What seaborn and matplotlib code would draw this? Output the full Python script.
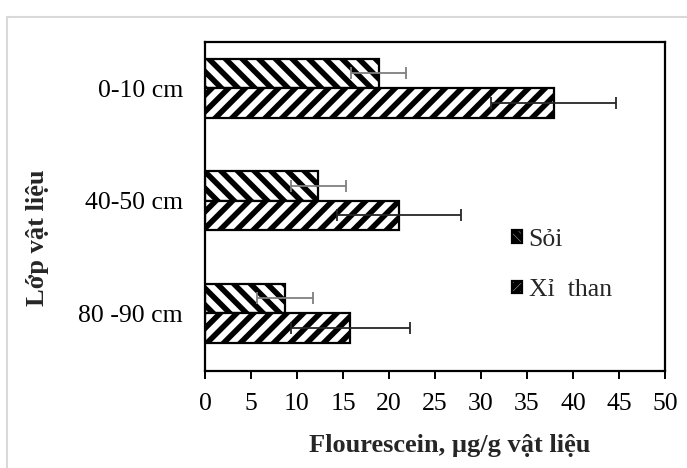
import matplotlib
matplotlib.use('Agg')
import pandas as pd
import matplotlib.pyplot as plt
import seaborn as sns
from matplotlib.patches import Rectangle

# values
layers = ['0-10 cm', '40-50 cm', '80 -90 cm']
materials = ['Sỏi', 'Xỉ  than']
soi_vals = [18.9, 12.3, 8.7]
soi_err = [3.0, 3.0, 3.0]
xi_vals = [37.9, 21.1, 15.8]
xi_err = [6.8, 6.7, 6.5]

df = pd.DataFrame({
    'layer': layers * 2,
    'material': [materials[0]] * 3 + [materials[1]] * 3,
    'value': soi_vals + xi_vals,
})

sns.set_style('ticks')
plt.rcParams['font.family'] = ['Liberation Serif', 'DejaVu Serif']
plt.rcParams['hatch.linewidth'] = 4.0
plt.rcParams['hatch.color'] = 'black'

fig = plt.figure(figsize=(6.87, 4.68), dpi=100)
ax = fig.add_axes([205 / 687, 1 - 371 / 468, 460 / 687, 329 / 468])

sns.barplot(data=df, x='value', y='layer', hue='material', orient='h',
            palette=['white', 'white'], edgecolor='black', linewidth=1.6,
            width=0.525, errorbar=None, ax=ax)

hatches = ['\\\\', '//']
err_colors = ['#7f7f7f', '#262626']
errs = [soi_err, xi_err]
vals = [soi_vals, xi_vals]
bar_groups = list(ax.containers)[:2]
for i, cont in enumerate(bar_groups):
    ys = []
    for bar in cont.patches:
        bar.set_hatch(hatches[i])
        ys.append(bar.get_y() + bar.get_height() / 2)
    ax.errorbar(vals[i], ys, xerr=errs[i], fmt='none', ecolor=err_colors[i],
                elinewidth=1.3, capsize=4, capthick=1.3, zorder=5)

ax.set_xlim(0, 50)
ax.set_xticks(range(0, 51, 5))
ax.set_ylim(2.515, -0.41)

for s in ax.spines.values():
    s.set_visible(True)
    s.set_color('black')
    s.set_linewidth(1.6)

ax.tick_params(axis='x', labelsize=18.5, length=6, width=1.4, pad=10, colors='black')
ax.tick_params(axis='y', labelsize=18.5, length=0, pad=16, colors='black')

ax.set_xlabel('Flourescein, µg/g vật liệu', fontsize=19, fontweight='bold')
ax.set_ylabel('Lớp vật liệu', fontsize=19, fontweight='bold')
ax.xaxis.set_label_coords(0.533, -0.225)
ax.yaxis.set_label_coords(-0.365, 0.404)
ax.xaxis.label.set_va('center')
ax.yaxis.label.set_va('center')

leg = ax.legend(loc='center left', bbox_to_anchor=(0.667, 0.322), frameon=False,
                fontsize=18.5, handlelength=0.4, handleheight=0.4,
                handletextpad=0.25, labelspacing=1.1, borderpad=0, borderaxespad=0)
for h, ht in zip(leg.legend_handles, hatches):
    h.set_facecolor('white')
    h.set_edgecolor('black')
    h.set_linewidth(1.6)
    h.set_hatch(ht * 2)

# light grey frame of the original picture
fig.add_artist(Rectangle((7 / 687, -0.1), 1.2, 1.1 - 17 / 468, transform=fig.transFigure,
                         fill=False, edgecolor='#d9d9d9', linewidth=1.5))

fig.savefig('out.png', dpi=100)
